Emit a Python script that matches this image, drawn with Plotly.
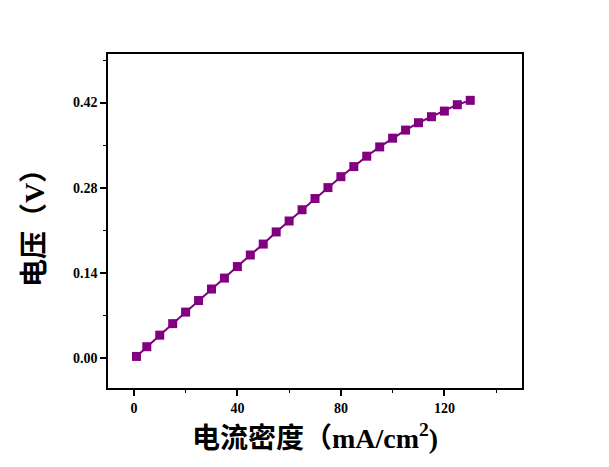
import plotly.graph_objects as go

current_density = [1, 5, 10, 15, 20, 25, 30, 35, 40, 45, 50, 55, 60, 65, 70, 75,
                   80, 85, 90, 95, 100, 105, 110, 115, 120, 125, 130]
voltage = [0.002, 0.018, 0.037, 0.056, 0.075, 0.094, 0.113, 0.131, 0.150, 0.169,
           0.187, 0.207, 0.225, 0.2435, 0.262, 0.280, 0.298, 0.3146, 0.3317, 0.347,
           0.3614, 0.3747, 0.3868, 0.3967, 0.406, 0.4165, 0.4237]

x_title = "电流密度（mA/cm<sup>2</sup>)"
y_title = "电压（V）"

font_fam = "Liberation Serif, Noto Sans CJK SC, serif"
color = "#800080"

fig = go.Figure(go.Scatter(
    x=current_density, y=voltage, mode="lines+markers",
    line=dict(color=color, width=2),
    marker=dict(symbol="square", size=9, color=color),
))

fig.update_layout(
    width=609, height=467,
    margin=dict(l=100, r=95, t=46, b=87),
    paper_bgcolor="white", plot_bgcolor="white",
    showlegend=False,
    font=dict(family=font_fam, color="black"),
)
fig.update_xaxes(
    range=[-10, 150], tick0=0, dtick=40,
    showgrid=False, zeroline=False,
    showline=True, linecolor="black", linewidth=1.5, mirror=True,
    ticks="outside", ticklen=6, tickwidth=1.5, tickcolor="black",
    minor=dict(dtick=20, tick0=0, ticks="outside", ticklen=3, tickcolor="black", tickwidth=1),
    tickfont=dict(size=14, family=font_fam, weight="bold"),
    title=dict(text=x_title, font=dict(size=28, family=font_fam, weight="bold"), standoff=14),
)
fig.update_yaxes(
    range=[-0.05, 0.50], tick0=0, dtick=0.14, tickformat=".2f",
    showgrid=False, zeroline=False,
    showline=True, linecolor="black", linewidth=1.5, mirror=True,
    ticks="outside", ticklen=6, tickwidth=1.5, tickcolor="black",
    minor=dict(dtick=0.07, tick0=0, ticks="outside", ticklen=3, tickcolor="black", tickwidth=1),
    tickfont=dict(size=14, family=font_fam, weight="bold"),
    title=dict(text=y_title, font=dict(size=28, family=font_fam, weight="bold"), standoff=20),
)

fig.write_html("out.html")
